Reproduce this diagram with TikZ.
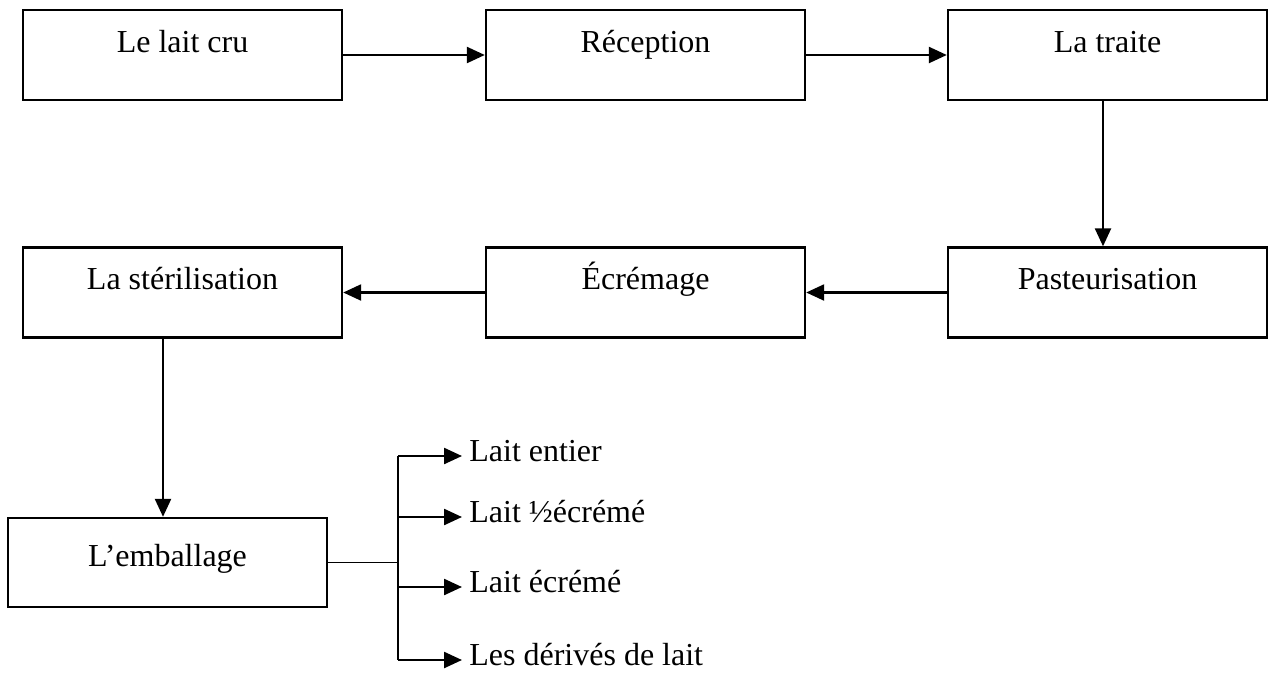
\documentclass[tikz,border=0pt]{standalone}
\usepackage{fontspec}
\setmainfont{Liberation Serif}
\usetikzlibrary{arrows.meta}

\begin{document}
\begin{tikzpicture}[x=0.5pt,y=-0.5pt,
        etape/.style={draw,line width=1.2pt,minimum width=159.5pt,inner sep=0pt,
            text height=21pt,text depth=24pt,font=\fontsize{16}{19}\selectfont},
        produit/.style={anchor=west,inner xsep=3.5pt,inner ysep=0pt,
            text height=10pt,text depth=4.5pt,font=\fontsize{16}{19}\selectfont},
        fleche/.style={line width=1.2pt,-{Triangle[length=9pt,width=8pt]}}]

        \useasboundingbox (0,0) rectangle (1268,675);

        \node[etape] (cru) at (182.5,55) {Le lait cru};
        \node[etape] (recep) at (645.5,55) {Réception};
        \node[etape] (traite) at (1107.5,55) {La traite};
        \node[etape] (pasteur) at (1107.5,292.5) {Pasteurisation};
        \node[etape] (ecremage) at (645.5,292.5) {Écrémage};
        \node[etape] (steril) at (182.5,292.5) {La stérilisation};
        \node[etape,text height=24pt,text depth=20.5pt] (emb) at (167.5,562.5) {L’emballage};

        \draw[fleche] (cru) -- (recep);
        \draw[fleche] (recep) -- (traite);
        \draw[fleche] ([xshift=-2.25pt]traite.south) -- ([xshift=-2.25pt]pasteur.north);
        \draw[fleche] (pasteur) -- (ecremage);
        \draw[fleche] (ecremage) -- (steril);
        \draw[fleche] ([xshift=-9.75pt]steril.south) -- ([xshift=-9.75pt]steril.south |- emb.north);

        \coordinate (fourche) at (398,562.5);
        \node[produit] (entier) at (462,456) {Lait entier};
        \node[produit] (demi) at (462,517) {Lait ½écrémé};
        \node[produit] (ecreme) at (462,587) {Lait écrémé};
        \node[produit] (derives) at (462,660) {Les dérivés de lait};

        \draw[line width=0.7pt] (emb.east) -- (fourche);
        \draw[line width=1.2pt] (fourche |- entier.west) -- (fourche |- derives.west);
        \foreach \p in {entier,demi,ecreme,derives}
            \draw[fleche] (fourche |- \p.west) -- (\p.west);
    \end{tikzpicture}
\end{document}
